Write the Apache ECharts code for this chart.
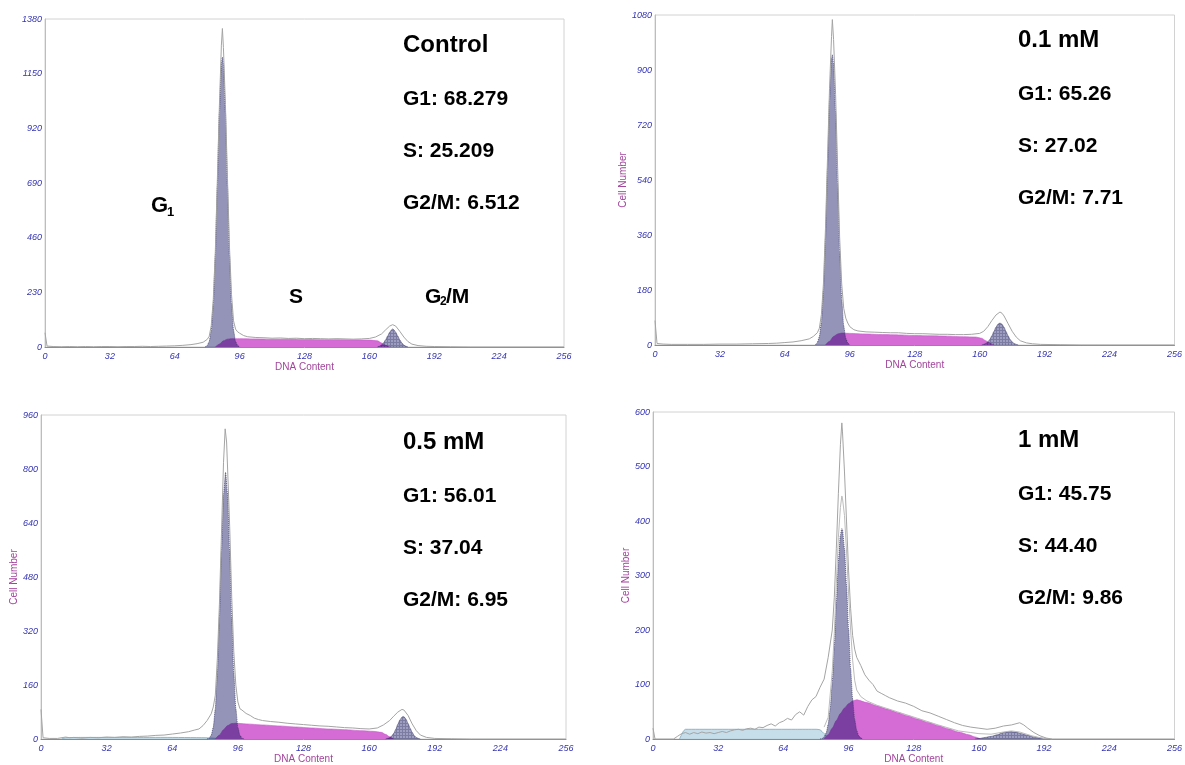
<!DOCTYPE html>
<html>
<head>
<meta charset="utf-8">
<script src="https://cdn.jsdelivr.net/npm/echarts@6/dist/echarts.min.js"></script>
<style>
  html, body { margin: 0; padding: 0; background: #ffffff; }
  #chart { width: 1185px; height: 765px; }
</style>
</head>
<body>
<div id="chart"></div>
<script>
// ---- DNA content histograms (channel, cell count) ----
const panelNames = ['Control', '0.1 mM', '0.5 mM', '1 mM'];
const g1Pct = ['68.279', '65.26', '56.01', '45.75'];
const sPct  = ['25.209', '27.02', '37.04', '44.40'];
const g2Pct = ['6.512', '7.71', '6.95', '9.86'];
const yMax  = [1380, 1080, 960, 600];
const yStep = [230, 180, 160, 100];
const xMax = 256;
const xStep = 32;

// Control
const ctrlRaw = [[0,60],[1,4],[4,2],[8,1],[12,2],[16,1],[20,2],[24,1],[28,2],[32,2],[36,1],[40,2],[44,2],[48,3],[52,2],[56,3],[60,4],[64,5],[68,7],[72,10],[75,14],[78,20],[80,32],[81,45],[82,90],[83,200],[84,400],[85,700],[86,1010],[87,1270],[87.5,1340],[88,1260],[89,1020],[90,710],[91,420],[92,220],[93,110],[94,75],[95,64],[96,58],[98,48],[100,43],[104,40],[108,39],[112,37],[116,38],[120,36],[124,37],[128,35],[132,36],[136,35],[140,34],[144,35],[148,34],[152,33],[156,34],[160,36],[163,42],[166,55],[168,72],[170,88],[171.5,94],[173,88],[175,66],[177,42],[179,23],[181,12],[184,6],[188,3],[192,2],[200,1],[210,0],[256,0]];
const ctrlG1 = [[79,0],[80,6],[81,23],[82,70],[83,180],[84,383],[85,676],[86,986],[87,1191],[87.5,1220],[88,1191],[89,986],[90,676],[91,383],[92,180],[93,70],[94,23],[95,6],[96,0]];
const ctrlS  = [[84,0],[86,12],[88,26],[90,33],[92,35],[96,35],[104,34],[112,33],[120,33],[128,32],[136,31],[144,31],[152,30],[160,29],[164,26],[166,17],[168,7],[170,0]];
const ctrlG2 = [[164,0],[165,3],[166,8],[167,17],[168,30],[169,46],[170,62],[171,73],[171.5,76],[172,73],[173,62],[174,46],[175,30],[176,17],[177,8],[178,3],[179,0]];

// 0.1 mM
const lowRaw = [[0,80],[1,5],[4,3],[8,2],[16,2],[24,2],[32,3],[40,3],[48,4],[56,5],[60,6],[64,8],[68,10],[72,14],[76,20],[78,28],[80,40],[81,55],[82,100],[83,200],[84,380],[85,610],[86,840],[87,1010],[87.4,1065],[88,1000],[89,820],[90,580],[91,350],[92,200],[93,120],[94,88],[95,72],[96,60],[98,50],[100,46],[104,43],[108,42],[112,41],[116,40],[120,40],[124,38],[128,37],[132,37],[136,36],[140,35],[144,35],[148,34],[152,34],[156,35],[160,38],[162,45],[164,60],[166,80],[168,98],[170,108],[171,104],[172,95],[174,70],[176,45],[178,26],[180,14],[183,7],[186,4],[190,2],[200,1],[210,0],[256,0]];
const lowG1 = [[79,0],[80,8],[81,27],[82,76],[83,177],[84,348],[85,576],[86,801],[87,937],[87.4,950],[88,920],[89,761],[90,528],[91,308],[92,151],[93,62],[94,22],[95,6],[96,0]];
const lowS  = [[84,0],[86,12],[88,28],[90,36],[92,39],[96,38],[104,36],[112,34],[120,33],[128,31],[136,30],[144,29],[152,27],[158,26],[161,22],[163,14],[165,6],[167,0]];
const lowG2 = [[161,0],[162,2],[163,5],[164,10],[165,18],[166,30],[167,44],[168,58],[169,68],[170,72],[171,68],[172,58],[173,44],[174,30],[175,18],[176,10],[177,5],[178,2],[179,0]];

// 0.5 mM
const midRaw = [[0,88],[1,4],[4,2],[8,2],[12,6],[14,4],[16,5],[20,3],[24,5],[28,4],[32,6],[36,5],[40,7],[44,6],[48,8],[52,9],[56,11],[60,12],[64,15],[68,18],[72,22],[75,27],[77,30],[79,40],[81,55],[83,75],[84,95],[85,130],[86,240],[87,400],[88,610],[89,820],[89.8,919],[90.5,880],[91,800],[92,630],[93,420],[94,260],[95,160],[96,110],[97,90],[98,86],[100,76],[102,70],[104,62],[106,58],[108,55],[112,52],[116,50],[120,47],[124,45],[128,43],[132,41],[136,39],[140,38],[144,36],[148,34],[152,33],[156,31],[160,30],[164,33],[167,42],[170,55],[172,68],[174,80],[176,88],[177,86],[179,70],[181,45],[183,25],[185,12],[188,5],[192,2],[200,1],[210,0],[256,0]];
const midDebris = [[10,0],[12,4],[20,5],[40,5],[60,5],[80,4],[86,2],[90,0]];
const midG1 = [[81,0],[82,3],[83,11],[84,35],[85,90],[86,197],[87,362],[88,558],[89,724],[90,790],[91,724],[92,558],[93,362],[94,197],[95,90],[96,35],[97,11],[98,3],[99,0]];
const midS  = [[85,0],[87,12],[89,28],[91,40],[93,46],[95,47],[100,45],[108,42],[116,39],[124,36],[132,33],[140,30],[148,28],[156,25],[162,23],[166,20],[168,14],[170,7],[172,0]];
const midG2 = [[168,0],[169,2],[170,4],[171,9],[172,17],[173,29],[174,44],[175,57],[176,65],[176.6,67],[177,66],[178,59],[179,46],[180,32],[181,20],[182,10],[183,5],[184,2],[185,0]];

// 1 mM
const highRaw = [[0,20],[1,0],[10,0],[12,5],[14,10],[16,12],[18,9],[20,12],[22,10],[24,13],[26,11],[28,12],[30,10],[32,12],[34,14],[36,12],[38,15],[40,17],[42,18],[44,16],[46,19],[48,20],[50,18],[52,22],[54,21],[56,25],[58,28],[60,24],[62,30],[64,33],[66,38],[68,35],[70,45],[72,50],[74,44],[76,60],[78,72],[80,78],[82,95],[84,110],[86,150],[88,200],[89,260],[90,350],[91,450],[92,540],[92.7,580],[93,565],[94,490],[95,400],[96,310],[97,240],[98,190],[99,165],[100,150],[102,135],[104,118],[106,108],[108,100],[110,88],[112,84],[114,80],[116,76],[120,70],[124,66],[128,60],[132,52],[136,48],[140,42],[144,36],[148,30],[152,25],[156,22],[160,20],[164,18],[168,20],[172,24],[176,26],[180,30],[182,26],[184,20],[187,12],[190,6],[193,2],[196,0],[256,0]];
const highFit = [[84,22],[86,40],[88,125],[89,195],[90,285],[91,370],[92,425],[92.7,446],[93,442],[94,410],[95,345],[96,268],[97,200],[98,145],[99,108],[100,90],[102,78],[105,70],[110,62],[120,50],[130,38],[140,26],[150,15],[156,12],[160,10],[166,9],[172,13],[176,15],[180,13],[186,6],[192,1],[196,0]];
const highDebris = [[13,0],[14,8],[15,15],[16,18],[30,18],[50,18],[70,18],[80,18],[82,17],[84,10],[86,3],[88,0]];
const highG1 = [[82,0],[83,1],[84,4],[85,11],[86,27],[87,56],[88,104],[89,171],[90,250],[91,325],[92,375],[92.7,386],[93,384],[94,349],[95,282],[96,202],[97,129],[98,73],[99,36],[100,16],[101,6],[102,2],[103,0]];
const highS  = [[84,0],[86,8],[88,20],[90,34],[92,47],[94,57],[96,65],[98,70],[100,72],[105,67],[110,61],[115,55],[120,49],[125,43],[130,37],[135,31],[140,25],[145,19],[150,13],[155,8],[158,4],[161,0]];
const highG2 = [[158,0],[160,1],[163,3],[166,5],[169,8],[172,12],[175,14],[178,13],[181,10],[184,7],[187,4],[190,2],[193,1],[195,0]];

const panels = [
  { raw: ctrlRaw, g1: ctrlG1, s: ctrlS, g2: ctrlG2 },
  { raw: lowRaw,  g1: lowG1,  s: lowS,  g2: lowG2 },
  { raw: midRaw,  g1: midG1,  s: midS,  g2: midG2, debris: midDebris },
  { raw: highRaw, g1: highG1, s: highS, g2: highG2, debris: highDebris, fit: highFit }
];

// ---- layout ----
const grids = [
  { left: 45,  top: 19,  width: 519, height: 328 },
  { left: 655, top: 15,  width: 524, height: 330 },
  { left: 41,  top: 415, width: 525, height: 328 },
  { left: 653, top: 412, width: 525, height: 331 }
];
const showYName = [false, true, true, true];
const statAnchor = [[403, 45], [1018, 40], [403, 442], [1018, 440]];

// cross-hatched fill used for the G2/M component
function hatchPattern() {
  const c = document.createElement('canvas');
  c.width = 3; c.height = 3;
  const g = c.getContext('2d');
  g.fillStyle = 'rgba(0,0,90,0.38)';
  g.fillRect(0, 0, 3, 3);
  g.fillStyle = 'rgba(0,0,60,0.22)';
  g.fillRect(0, 0, 3, 1);
  g.fillRect(0, 1, 1, 2);
  return c;
}
const hatch = { image: hatchPattern(), repeat: 'repeat' };

const labelFont = 'Liberation Sans';
const axisBlue = '#3434b4';
const namePurple = '#a3449c';

const xAxes = grids.map((g, i) => ({
  type: 'value', gridIndex: i, min: 0, max: xMax, interval: xStep,
  name: 'DNA Content', nameLocation: 'middle', nameGap: 11,
  nameTextStyle: { color: namePurple, fontSize: 10, fontFamily: labelFont },
  axisLine: { show: true, lineStyle: { color: '#8c8c8c', width: 1 } },
  axisTick: { show: false },
  splitLine: { show: false },
  axisLabel: { color: axisBlue, fontSize: 9, fontStyle: 'italic', fontFamily: labelFont, margin: 5,
               formatter: v => String(v) }
}));

const yAxes = grids.map((g, i) => ({
  type: 'value', gridIndex: i, min: 0, max: yMax[i], interval: yStep[i],
  name: showYName[i] ? 'Cell Number' : '', nameLocation: 'middle', nameGap: 21,
  nameTextStyle: { color: namePurple, fontSize: 10, fontFamily: labelFont },
  axisLine: { show: true, lineStyle: { color: '#bdbdbd', width: 1 } },
  axisTick: { show: false },
  splitLine: { show: false },
  axisLabel: { color: axisBlue, fontSize: 9, fontStyle: 'italic', fontFamily: labelFont, margin: 3,
               formatter: v => String(v) }
}));

const series = [];
panels.forEach((p, i) => {
  const base = { type: 'line', xAxisIndex: i, yAxisIndex: i, showSymbol: false, symbol: 'none', silent: true };
  if (p.debris) {
    series.push(Object.assign({}, base, {
      name: 'Debris', data: p.debris, smooth: 0.2,
      lineStyle: { color: '#7fa6b8', width: 0.8 },
      areaStyle: { color: 'rgba(168,205,222,0.65)', opacity: 1 }, z: 2
    }));
  }
  series.push(Object.assign({}, base, {
    name: 'S', data: p.s, smooth: 0.25, smoothMonotone: 'x',
    lineStyle: { color: '#c65cc8', width: 0.6 },
    areaStyle: { color: '#d56cd6', opacity: 1 }, z: 3
  }));
  series.push(Object.assign({}, base, {
    name: 'G1', data: p.g1, smooth: 0.2, smoothMonotone: 'x',
    lineStyle: { color: 'rgba(45,45,90,0.7)', width: 1, type: 'dotted' },
    areaStyle: { color: 'rgba(0,0,88,0.42)', opacity: 1 }, z: 4
  }));
  series.push(Object.assign({}, base, {
    name: 'G2/M', data: p.g2, smooth: 0.25, smoothMonotone: 'x',
    lineStyle: { color: 'rgba(50,50,100,0.6)', width: 0.8 },
    areaStyle: { color: hatch, opacity: 1 }, z: 4
  }));
  if (p.fit) {
    series.push(Object.assign({}, base, {
      name: 'Fit', data: p.fit,
      lineStyle: { color: '#bcbcbc', width: 1 }, z: 5
    }));
  }
  series.push(Object.assign({}, base, {
    name: 'Data', data: p.raw,
    lineStyle: { color: '#a4a4a4', width: 1 }, z: 6
  }));
});

// panel captions and phase percentages
const graphic = [];
const statOffsets = [0, 54, 106, 158];
statAnchor.forEach((a, i) => {
  const lines = [panelNames[i], 'G1: ' + g1Pct[i], 'S: ' + sPct[i], 'G2/M: ' + g2Pct[i]];
  lines.forEach((t, k) => {
    graphic.push({
      type: 'text', x: a[0], y: a[1] + statOffsets[k], silent: true, z: 20,
      style: {
        text: t, fill: '#000000', verticalAlign: 'middle', align: 'left',
        font: (k === 0 ? 'bold 24px ' : 'bold 21px ') + '"Liberation Sans", Arial, sans-serif'
      }
    });
  });
});

// phase markers in the control histogram
const phaseFont = (px) => 'bold ' + px + 'px "Liberation Sans", Arial, sans-serif';
const phaseMarks = [
  { t: 'G', x: 151, y: 206, s: 22 }, { t: '1', x: 167, y: 212, s: 13 },
  { t: 'S', x: 289, y: 297, s: 21 },
  { t: 'G', x: 425, y: 297, s: 21 }, { t: '2', x: 440, y: 302, s: 12 }, { t: '/M', x: 446, y: 297, s: 21 }
];
phaseMarks.forEach(m => {
  graphic.push({
    type: 'text', x: m.x, y: m.y, silent: true, z: 20,
    style: { text: m.t, fill: '#000000', verticalAlign: 'middle', align: 'left', font: phaseFont(m.s) }
  });
});

const chart = echarts.init(document.getElementById('chart'), null, { renderer: 'canvas' });
chart.setOption({
  animation: false,
  backgroundColor: '#ffffff',
  grid: grids.map(g => Object.assign({ show: true, borderColor: '#d2d2d2', borderWidth: 1, backgroundColor: 'transparent' }, g)),
  xAxis: xAxes,
  yAxis: yAxes,
  series: series,
  graphic: graphic
});
</script>
</body>
</html>
